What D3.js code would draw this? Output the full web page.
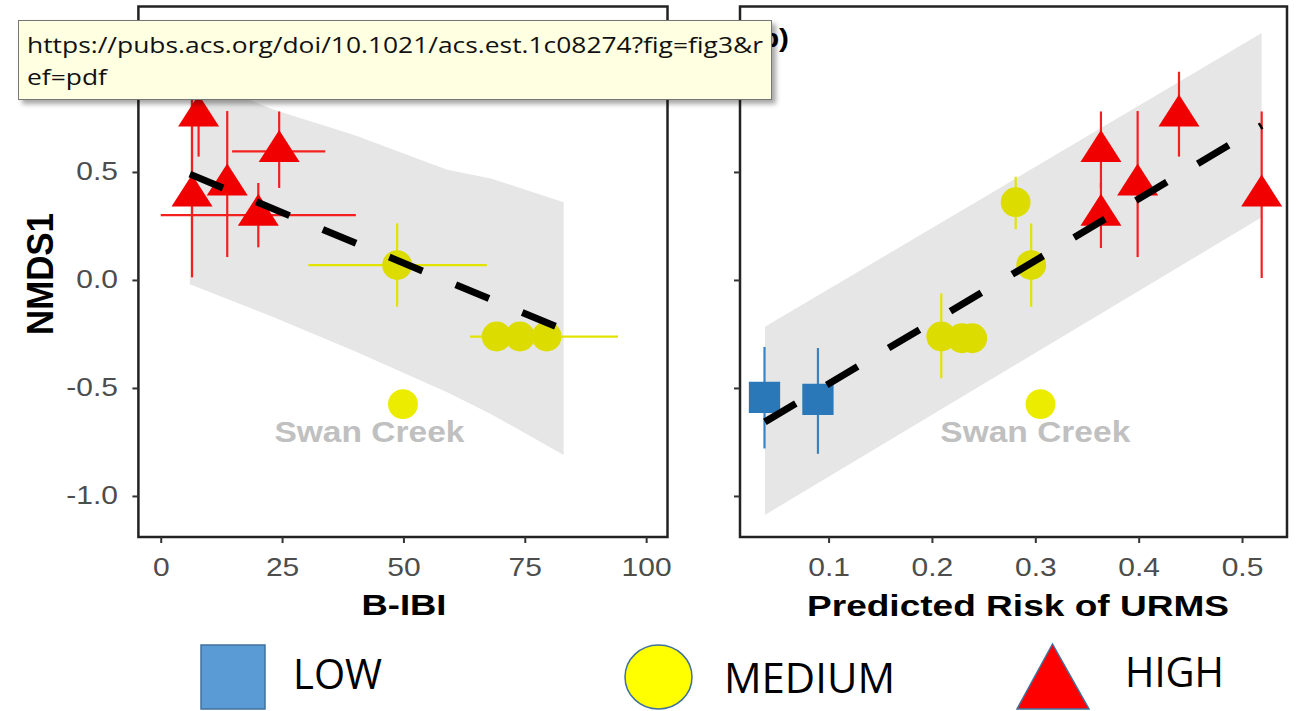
<!DOCTYPE html>
<html>
<head>
<meta charset="utf-8">
<script src="https://d3js.org/d3.v7.min.js"></script>
<style>
  body { margin: 0; background: #fff; }
  svg { display: block; }
</style>
</head>
<body>
<div id="chart"></div>
<script>
// ---- panel (a): NMDS1 against B-IBI ----
var aBibi    = [7.8, 6.45, 13.7, 24.4, 20.1, 48.7, 69.2, 74.0, 79.5, 49.9];
var aNmds    = [0.76, 0.39, 0.44, 0.595, 0.30, 0.069, -0.262, -0.262, -0.262, -0.575];
var aRisk    = ["HIGH", "HIGH", "HIGH", "HIGH", "HIGH", "MEDIUM", "MEDIUM", "MEDIUM", "MEDIUM", "MEDIUM"];
var aNmdsLo  = [0.571, 0.012, 0.106, 0.426, 0.151, -0.124, null, null, null, null];
var aNmdsHi  = [0.964, 0.85, 0.782, 0.78, 0.449, 0.262, null, null, null, null];
var aBibiLo  = [null, null, null, 14.7, 0, 30.4, null, null, 63.7, null];
var aBibiHi  = [null, null, null, 33.9, 40.2, 67.2, null, null, 94.2, null];
var aSite    = ["", "", "", "", "", "", "", "", "", "Swan Creek"];

var aFitX    = [6, 83];
var aFitY    = [0.49, -0.23];
var aBandX   = [6, 23, 40, 59, 68, 83];
var aBandLo  = [-0.02, -0.17, -0.33, -0.52, -0.62, -0.81];
var aBandHi  = [0.95, 0.79, 0.67, 0.51, 0.47, 0.36];

// ---- panel (b): NMDS1 against predicted risk of URMS ----
var bRiskX   = [0.439, 0.519, 0.399, 0.3635, 0.3635, 0.281, 0.296, 0.209, 0.229, 0.239, 0.305, 0.038, 0.0897];
var bNmds    = [0.76, 0.39, 0.44, 0.595, 0.30, 0.36, 0.069, -0.262, -0.27, -0.27, -0.575, -0.544, -0.553];
var bRisk    = ["HIGH", "HIGH", "HIGH", "HIGH", "HIGH", "MEDIUM", "MEDIUM", "MEDIUM", "MEDIUM", "MEDIUM", "MEDIUM", "LOW", "LOW"];
var bNmdsLo  = [0.571, 0.009, 0.106, 0.426, 0.148, 0.235, -0.124, -0.455, null, null, null, -0.78, -0.805];
var bNmdsHi  = [0.964, 0.78, 0.782, 0.78, 0.449, 0.478, 0.262, -0.062, null, null, null, -0.31, -0.315];
var bSite    = ["", "", "", "", "", "", "", "", "", "", "Swan Creek", "", ""];

var bFitX    = [0.0384, 0.519];
var bFitY    = [-0.657, 0.715];
var bBandX   = [0.0384, 0.519];
var bBandLo  = [-1.088, 0.29];
var bBandHi  = [-0.217, 1.143];

// ---- ticks, labels, legend ----
var yTicks   = [-1.0, -0.5, 0.0, 0.5];
var aXTicks  = [0, 25, 50, 75, 100];
var bXTicks  = [0.1, 0.2, 0.3, 0.4, 0.5];
var noteA    = {x: 43, y: -0.75, text: "Swan Creek"};
var noteB    = {x: 0.300, y: -0.75, text: "Swan Creek"};
var legendItems = ["LOW", "MEDIUM", "HIGH"];
var tooltipLines = ["https://pubs.acs.org/doi/10.1021/acs.est.1c08274?fig=fig3&r", "ef=pdf"];

var width = 1302, height = 711;
var svg = d3.select("#chart").append("svg")
    .attr("width", width)
    .attr("height", height);

var y  = d3.scaleLinear().domain([-1.19, 1.266]).range([537, 6.5]);
var xA = d3.scaleLinear().domain([-4.6, 104.4]).range([138.4, 667.5]);
var xB = d3.scaleLinear().domain([0.0143, 0.5435]).range([740, 1287]);

var fill = {LOW: "#2b78b8", MEDIUM: "#dcdc00", HIGH: "#f00000"};
var errColor = {LOW: "#3784c4", MEDIUM: "#e3e300", HIGH: "#f42020"};

// ggplot's triangle looks a bit flatter than d3's
var flatTriangle = {
    draw: function(ctx, size) {
        var k = Math.sqrt(size / 1312);
        var w = 20.5 * k, h = 32 * k;
        ctx.moveTo(0, -2 * h / 3);
        ctx.lineTo(w, h / 3);
        ctx.lineTo(-w, h / 3);
        ctx.closePath();
    }
};
var shape = {LOW: d3.symbolSquare, MEDIUM: d3.symbolCircle, HIGH: flatTriangle};
var shapeSize = {LOW: 980, MEDIUM: 700, HIGH: 1312};

var sansFont = "'Liberation Sans', Arial, sans-serif";

function rowsOf(xs, ys, risk, lo, hi, xlo, xhi, site) {
    return xs.map(function(v, i) {
        return {x: v, y: ys[i], risk: risk[i], lo: lo[i], hi: hi[i],
                xlo: xlo ? xlo[i] : null, xhi: xhi ? xhi[i] : null, site: site[i]};
    });
}

function drawPanel(x, rows, fitX, fitY, bandX, bandLo, bandHi, note, tag, xTicks, xFmt, yLabels) {
    var g = svg.append("g");
    var band = bandX.map(function(v, i) { return {x: v, lo: bandLo[i], hi: bandHi[i]}; });

    g.append("path")
        .datum(band)
        .attr("fill", "#e6e6e6")
        .attr("d", d3.area().x(d => x(d.x)).y0(d => y(d.lo)).y1(d => y(d.hi)));

    g.append("text")
        .attr("x", x(note.x))
        .attr("y", y(note.y))
        .attr("text-anchor", "middle")
        .attr("font-family", sansFont)
        .attr("font-weight", "bold")
        .attr("font-size", 29)
        .attr("fill", "#c0c0c0")
        .attr("textLength", 190)
        .attr("lengthAdjust", "spacingAndGlyphs")
        .text(note.text);

    // vertical error bars
    g.selectAll(".vbar")
        .data(rows.filter(d => d.lo != null))
        .enter().append("line")
        .attr("class", "vbar")
        .attr("x1", d => x(d.x)).attr("x2", d => x(d.x))
        .attr("y1", d => y(d.lo)).attr("y2", d => y(d.hi))
        .attr("stroke", d => errColor[d.risk])
        .attr("stroke-width", 2.2);

    // horizontal error bars
    g.selectAll(".hbar")
        .data(rows.filter(d => d.xlo != null))
        .enter().append("line")
        .attr("class", "hbar")
        .attr("x1", d => x(d.xlo)).attr("x2", d => x(d.xhi))
        .attr("y1", d => y(d.y)).attr("y2", d => y(d.y))
        .attr("stroke", d => errColor[d.risk])
        .attr("stroke-width", 2.2);

    g.selectAll(".pt")
        .data(rows)
        .enter().append("path")
        .attr("class", "pt")
        .attr("transform", d => "translate(" + x(d.x) + "," + y(d.y) + ")")
        .attr("d", d => d3.symbol().type(shape[d.risk]).size(shapeSize[d.risk])())
        .attr("fill", d => d.site ? "#ecec00" : fill[d.risk]);

    var fit = fitX.map(function(v, i) { return [v, fitY[i]]; });
    g.append("path")
        .datum(fit)
        .attr("fill", "none")
        .attr("stroke", "#000")
        .attr("stroke-width", 7)
        .attr("stroke-dasharray", "36,36")
        .attr("d", d3.line().x(d => x(d[0])).y(d => y(d[1])));

    // panel tag; the (a) tag sits fully under the link tooltip, so only (b) is drawn
    if (tag) {
        g.append("text")
            .attr("x", x.range()[0] + 11)
            .attr("y", 47)
            .attr("font-family", sansFont)
            .attr("font-weight", "bold")
            .attr("font-size", 26)
            .attr("fill", "#000")
            .attr("textLength", 38)
            .attr("lengthAdjust", "spacingAndGlyphs")
            .text(tag);
    }

    // panel border
    g.append("rect")
        .attr("x", x.range()[0])
        .attr("y", y.range()[1])
        .attr("width", x.range()[1] - x.range()[0])
        .attr("height", y.range()[0] - y.range()[1])
        .attr("fill", "none")
        .attr("stroke", "#222")
        .attr("stroke-width", 2.5);

    var gy = svg.append("g")
        .attr("transform", "translate(" + x.range()[0] + ",0)")
        .call(d3.axisLeft(y).tickValues(yTicks).tickSize(6).tickPadding(11)
            .tickFormat(yLabels ? d => d.toFixed(1) : ""));
    var gx = svg.append("g")
        .attr("transform", "translate(0," + y.range()[0] + ")")
        .call(d3.axisBottom(x).tickValues(xTicks).tickSize(6).tickPadding(15).tickFormat(xFmt));

    [gx, gy].forEach(function(ax) {
        ax.select(".domain").remove();
        ax.selectAll(".tick line").attr("stroke", "#333").attr("stroke-width", 2);
        ax.selectAll(".tick text")
            .attr("font-family", sansFont)
            .attr("font-size", 25)
            .attr("fill", "#4d4d4d")
            .attr("transform", "scale(1.2,1)");
    });
}

drawPanel(xA, rowsOf(aBibi, aNmds, aRisk, aNmdsLo, aNmdsHi, aBibiLo, aBibiHi, aSite),
    aFitX, aFitY, aBandX, aBandLo, aBandHi, noteA, null, aXTicks, d3.format("d"), true);
drawPanel(xB, rowsOf(bRiskX, bNmds, bRisk, bNmdsLo, bNmdsHi, null, null, bSite),
    bFitX, bFitY, bBandX, bBandLo, bBandHi, noteB, "(b)", bXTicks, d => d.toFixed(1), false);

// axis titles
svg.append("text")
    .attr("transform", "translate(53,274) scale(1.25,1) rotate(-90)")
    .attr("text-anchor", "middle")
    .attr("font-family", sansFont)
    .attr("font-weight", "bold")
    .attr("font-size", 29)
    .attr("textLength", 122)
    .attr("lengthAdjust", "spacingAndGlyphs")
    .text("NMDS1");

svg.append("text")
    .attr("x", 404).attr("y", 615)
    .attr("text-anchor", "middle")
    .attr("font-family", sansFont)
    .attr("font-weight", "bold")
    .attr("font-size", 29)
    .attr("textLength", 85)
    .attr("lengthAdjust", "spacingAndGlyphs")
    .text("B-IBI");

svg.append("text")
    .attr("x", 1018).attr("y", 616)
    .attr("text-anchor", "middle")
    .attr("font-family", sansFont)
    .attr("font-weight", "bold")
    .attr("font-size", 29)
    .attr("textLength", 422)
    .attr("lengthAdjust", "spacingAndGlyphs")
    .text("Predicted Risk of URMS");

// legend
var legend = svg.append("g");
var legendText = {LOW: {x: 293, w: 89, y: 689}, MEDIUM: {x: 724, w: 171, y: 693}, HIGH: {x: 1125, w: 99, y: 687}};
legend.append("rect")
    .attr("x", 201).attr("y", 645).attr("width", 64).attr("height", 64)
    .attr("fill", "#5b9bd5").attr("stroke", "#41719c").attr("stroke-width", 1.5);
legend.append("ellipse")
    .attr("cx", 658.5).attr("cy", 677).attr("rx", 33.5).attr("ry", 32)
    .attr("fill", "#ffff00").attr("stroke", "#41719c").attr("stroke-width", 1.5);
legend.append("path")
    .attr("d", "M1052.5,644L1089,709L1017,709Z")
    .attr("fill", "#ff0000").attr("stroke", "#41719c").attr("stroke-width", 1.5);
legend.selectAll(".ltext")
    .data(legendItems)
    .enter().append("text")
    .attr("class", "ltext")
    .attr("x", d => legendText[d].x)
    .attr("y", d => legendText[d].y)
    .attr("font-family", "'Open Sans', 'Noto Sans', sans-serif")
    .attr("font-size", 42)
    .attr("textLength", d => legendText[d].w)
    .attr("lengthAdjust", "spacingAndGlyphs")
    .text(d => d);

// browser link tooltip sitting over the figure
var defs = svg.append("defs");
var shadow = defs.append("filter").attr("id", "tipShadow")
    .attr("x", "-5%").attr("y", "-20%").attr("width", "115%").attr("height", "160%");
shadow.append("feDropShadow")
    .attr("dx", 4).attr("dy", 4).attr("stdDeviation", 2.5)
    .attr("flood-color", "#000").attr("flood-opacity", 0.35);

var tip = svg.append("g");
tip.append("rect")
    .attr("x", 18.5).attr("y", 20.5).attr("width", 753).attr("height", 79)
    .attr("fill", "#ffffe1").attr("stroke", "#767676").attr("stroke-width", 1)
    .attr("filter", "url(#tipShadow)");
tip.selectAll("text")
    .data(tooltipLines)
    .enter().append("text")
    .attr("x", 27)
    .attr("y", (d, i) => 53 + i * 32)
    .attr("font-family", "'Open Sans', 'Noto Sans', sans-serif")
    .attr("font-size", 22)
    .attr("fill", "#111")
    .attr("textLength", (d, i) => i === 0 ? 736 : 80)
    .attr("lengthAdjust", "spacingAndGlyphs")
    .text(d => d);
</script>
</body>
</html>
